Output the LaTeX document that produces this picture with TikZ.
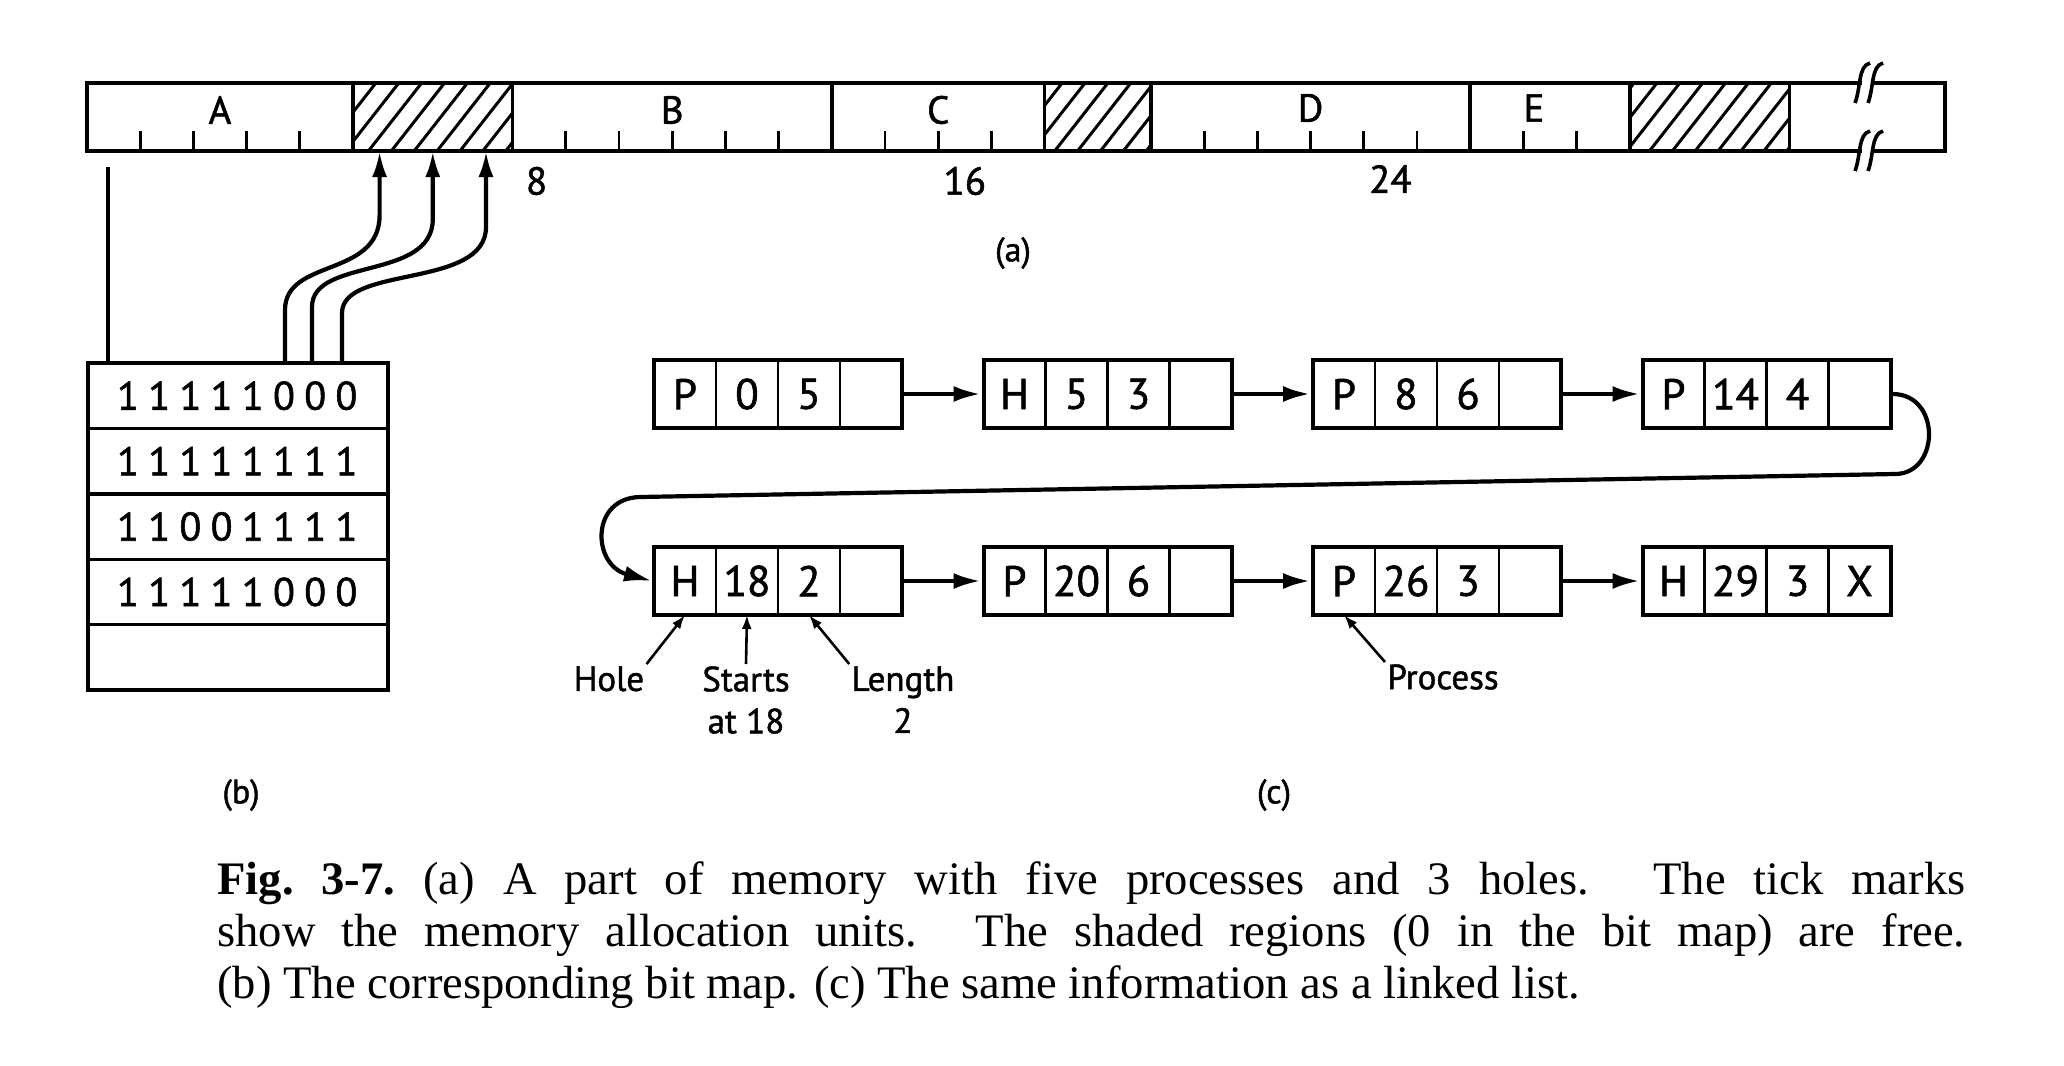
\documentclass[tikz,border=0pt]{standalone}
\usepackage{fontspec}
\setmainfont{Liberation Serif}
\newfontfamily\figfont[FakeBold=1.3]{PT Sans}
\usetikzlibrary{arrows.meta, positioning, fit}
\tikzset{
  seg/.style = {rectangle, draw=black, line width=1.8pt, minimum height=34pt, inner sep=0pt, outer sep=0pt},
  memtag/.style = {font=\figfont\fontsize{19.5}{19.5}\selectfont, inner sep=0pt},
  tick/.style = {line width=1.4pt},
  hatch/.style = {line width=1.5pt},
  bitrow/.style = {rectangle, draw=black, line width=1.7pt, minimum width=150pt, minimum height=32.7pt, inner sep=0pt, outer sep=0pt},
  bitdigit/.style = {font=\figfont\fontsize{20}{20}\selectfont, inner sep=0pt},
  cell/.style = {rectangle, draw=black, line width=1.4pt, minimum width=31pt, minimum height=34pt, inner sep=0pt, outer sep=0pt, font=\figfont\fontsize{21.5}{21.5}\selectfont},
  rec/.style = {rectangle, draw=black, line width=2pt, inner sep=0pt},
  line/.style = {-{Latex[length=14pt, width=8pt]}, line width=2.4pt},
  wire/.style = {-{Latex[length=13pt, width=7.5pt]}, line width=2.1pt},
  noteline/.style = {-{Latex[length=7pt, width=5pt]}, line width=1.3pt},
  notetext/.style = {font=\figfont\fontsize{17.5}{21}\selectfont, align=center, inner sep=1pt},
  parttag/.style = {font=\figfont\fontsize{17}{17}\selectfont, inner sep=0pt}
}
\begin{document}
\begin{tikzpicture}[x=0.5pt, y=-0.5pt]
\path[use as bounding box, fill=white] (0,0) rectangle (2064,1065);

% (a) Memory, one unit = 26.6pt
\begin{scope}[shift={(87,0)}, x=26.6pt]
\node[seg, minimum width=133pt] (A) at (2.5,117) {};
\node[seg, minimum width=79.8pt] (hole1) at (6.5,117) {};
\node[seg, minimum width=159.6pt] (B) at (11,117) {};
\node[seg, minimum width=106.4pt] (C) at (16,117) {};
\node[seg, minimum width=53.2pt] (hole2) at (19,117) {};
\node[seg, minimum width=159.6pt] (D) at (23,117) {};
\node[seg, minimum width=79.8pt] (E) at (27.5,117) {};
\node[seg, minimum width=79.8pt] (hole3) at (30.5,117) {};
\node[seg, minimum width=77.8pt] (rest) at (33.46,117) {};

\foreach \h in {hole1,hole2,hole3}{
  \begin{scope}
    \clip (\h.north west) rectangle (\h.south east);
    \foreach \k in {4,4.43,...,33} \draw[hatch] (\k,151) -- ++(1,-68);
  \end{scope}
}

\foreach \u in {1,2,3,4,9,10,11,12,13,15,16,17,21,22,23,24,25,27,28}
  \draw[tick] (\u,151) -- (\u,131);

\node[memtag] (tagA) at (2.5,110) {A};
\node[memtag] (tagB) at (11,110) {B};
\node[memtag] (tagC) at (16,110) {C};
\node[memtag] (tagD) at (23,108) {D};
\node[memtag] (tagE) at (27.2,108) {E};

\node[memtag] (num8) at (8.45,181) {8};
\node[memtag] (num16) at (16.5,181) {16};
\node[memtag] (num24) at (24.5,179) {24};
\end{scope}

% break in the bar
\foreach \y in {83,151}{
  \fill[white] (1862,{\y-3}) rectangle (1872,{\y+3});
  \foreach \dx in {0,13}
    \draw[line width=1.8pt] ({1855+\dx},{\y+20}) .. controls ({1861+\dx},{\y+4}) and ({1858+\dx},{\y-17}) .. ({1870+\dx},{\y-20});
}

\node[parttag] (pa) at (1013,253) {(a)};

% (b) Bit map
\node[bitrow] (r1) at (238,395.7) {};
\node[bitrow, below=0pt of r1] (r2) {};
\node[bitrow, below=0pt of r2] (r3) {};
\node[bitrow, below=0pt of r3] (r4) {};
\node[bitrow, below=0pt of r4] (r5) {};

\foreach \bits [count=\r] in {{1,1,1,1,1,0,0,0},{1,1,1,1,1,1,1,1},{1,1,0,0,1,1,1,1},{1,1,1,1,1,0,0,0}}
  \foreach \b [count=\i] in \bits
    \node[bitdigit] (d\r-\i) at ([xshift={20pt+15.6pt*(\i-1)}]r\r.west) {\b};

\coordinate (mstart) at (108,167);
\draw[line width=2pt] ([xshift=10pt]r1.north west) -- (mstart);

\draw[wire] ([xshift=98.5pt]r1.north west) -- ++(0,-53)
  .. controls +(0,-52) and +(0,63) .. ([xshift=-26.6pt, yshift=-32pt]hole1.south)
  -- ([xshift=-26.6pt]hole1.south);
\draw[wire] ([xshift=112pt]r1.north west) -- ++(0,-56)
  .. controls +(0,-50) and +(0,62) .. ([yshift=-34pt]hole1.south)
  -- (hole1.south);
\draw[wire] ([xshift=127pt]r1.north west) -- ++(0,-50)
  .. controls +(0,-48) and +(0,62) .. ([xshift=26.6pt, yshift=-38pt]hole1.south)
  -- ([xshift=26.6pt]hole1.south);

\node[parttag] (pb) at (241,795) {(b)};

% (c) Linked list, top row
\node[cell] (l1a) at (685,394) {P};
\node[cell, right=0pt of l1a] (l1b) {0};
\node[cell, right=0pt of l1b] (l1c) {5};
\node[cell, right=0pt of l1c] (l1d) {};

\node[cell, right=40.75pt of l1d] (l2a) {H};
\node[cell, right=0pt of l2a] (l2b) {5};
\node[cell, right=0pt of l2b] (l2c) {3};
\node[cell, right=0pt of l2c] (l2d) {};

\node[cell, right=40.75pt of l2d] (l3a) {P};
\node[cell, right=0pt of l3a] (l3b) {8};
\node[cell, right=0pt of l3b] (l3c) {6};
\node[cell, right=0pt of l3c] (l3d) {};

\node[cell, right=40.75pt of l3d] (l4a) {P};
\node[cell, right=0pt of l4a] (l4b) {14};
\node[cell, right=0pt of l4b] (l4c) {4};
\node[cell, right=0pt of l4c] (l4d) {};

% bottom row
\node[cell, below=59.5pt of l1a] (l5a) {H};
\node[cell, right=0pt of l5a] (l5b) {18};
\node[cell, right=0pt of l5b] (l5c) {2};
\node[cell, right=0pt of l5c] (l5d) {};

\node[cell, right=40.75pt of l5d] (l6a) {P};
\node[cell, right=0pt of l6a] (l6b) {20};
\node[cell, right=0pt of l6b] (l6c) {6};
\node[cell, right=0pt of l6c] (l6d) {};

\node[cell, right=40.75pt of l6d] (l7a) {P};
\node[cell, right=0pt of l7a] (l7b) {26};
\node[cell, right=0pt of l7b] (l7c) {3};
\node[cell, right=0pt of l7c] (l7d) {};

\node[cell, right=40.75pt of l7d] (l8a) {H};
\node[cell, right=0pt of l8a] (l8b) {29};
\node[cell, right=0pt of l8b] (l8c) {3};
\node[cell, right=0pt of l8c] (l8d) {X};

% outer boxes
\foreach \n in {1,...,8}
  \node[rec, fit=(l\n a)(l\n d)] (l\n) {};

% Arrows
\draw[line] (l1) -- (l2);
\draw[line] (l2) -- (l3);
\draw[line] (l3) -- (l4);
\draw[line] (l5) -- (l6);
\draw[line] (l6) -- (l7);
\draw[line] (l7) -- (l8);
\draw[line, line width=2.1pt] (l4.east) .. controls +(49,0) and +(45,0) .. (1895,474)
  -- (640,497) .. controls +(-50,1) and (592,565) .. (l5.west);

% Notes
\node[notetext, anchor=north] (hole) at (609,664) {Hole};
\node[notetext, anchor=north] (starts) at (746,664) {Starts\\at 18};
\node[notetext, anchor=north] (length) at (903,664) {Length\\2};
\node[notetext, anchor=north] (proc) at (1443,662) {Process};
\draw[noteline] (hole.north east) -- (l5a.south);
\draw[noteline] (starts.north) -- (l5b.south);
\draw[noteline] (length.north west) -- (l5c.south);
\draw[noteline] (proc.north west) -- (l7a.south);

\node[parttag] (pc) at (1274,795) {(c)};

% Caption
\node[anchor=north west, text width=874pt, align=justify, inner sep=0pt, font=\fontsize{23.3}{26}\selectfont] (cap) at (217,861)
  {\textbf{Fig.\ 3-7.}\ (a) A part of memory with five processes and 3 holes. The tick marks\linebreak
   show the memory allocation units. The shaded regions (0 in the bit map) are free.\linebreak
   (b) The corresponding bit map. (c) The same information as a linked list.};

\end{tikzpicture}
\end{document}
